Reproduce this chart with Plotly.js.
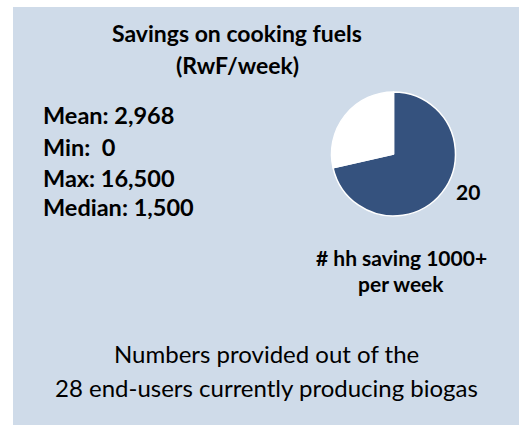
<!DOCTYPE html>
<html>
<head>
<meta charset="utf-8">
<script src="https://cdn.plot.ly/plotly-3.0.1.min.js"></script>
<style>html,body{margin:0;padding:0;background:#fff;}#chart{width:519px;height:425px;}</style>
</head>
<body>
<div id="chart"></div>
<script>
// Data
var sliceLabels = ["Saving 1000+ per week", "Saving less than 1000 per week"];
var sliceValues = [20, 8];
var sliceColors = ["#35527E", "#FFFFFF"];
var titleLines = ["Savings on cooking fuels", "(RwF/week)"];
var statLines = ["Mean: 2,968", "Min:  0", "Max: 16,500", "Median: 1,500"];
var pieCaption = ["# hh saving 1000+", "per week"];
var footLines = ["Numbers provided out of the", "28 end-users currently producing biogas"];

var W = 519, H = 425;
var FONT = "Lato, 'Open Sans', sans-serif";
function px(x){return x / W;}
function py(y){return 1 - y / H;}

var annotations = [];
function addText(t, x, y, size, bold, xanchor){
  annotations.push({
    text: bold ? "<b>" + t + "</b>" : t,
    x: px(x), y: py(y), xref: "paper", yref: "paper",
    xanchor: xanchor || "center", yanchor: "middle",
    showarrow: false,
    font: {family: FONT, size: size, color: "#000"}
  });
}
addText(titleLines[0], 237, 33, 23, true);
addText(titleLines[1], 237, 65, 23, true);
var statY = [115, 147, 178, 207];
statLines.forEach(function(s, i){ addText(s, 41, statY[i], 23.5, true, "left"); });
addText(pieCaption[0], 401, 257, 21, true);
addText(pieCaption[1], 401, 283, 21, true);
addText(footLines[0], 266, 353, 24, false);
addText(footLines[1], 266, 387, 24, false);
// value label of the dark slice
addText(String(sliceValues[0]), 468, 191, 21, true);

var trace = {
  type: "pie",
  labels: sliceLabels,
  values: sliceValues,
  sort: false,
  direction: "clockwise",
  rotation: 0,
  marker: {colors: sliceColors, line: {color: "#FFFFFF", width: 1.5}},
  textinfo: "none",
  hoverinfo: "label+value",
  showlegend: false,
  domain: {x: [px(331), px(456)], y: [py(216), py(92)]}
};

var layout = {
  width: W, height: H,
  margin: {l: 0, r: 0, t: 0, b: 0},
  paper_bgcolor: "#FFFFFF",
  plot_bgcolor: "rgba(0,0,0,0)",
  showlegend: false,
  shapes: [{
    type: "rect", xref: "paper", yref: "paper", layer: "below",
    x0: px(13), x1: 1, y0: 0, y1: py(7),
    fillcolor: "#CFDBE9", line: {width: 0}
  }],
  annotations: annotations
};

Plotly.newPlot("chart", [trace], layout, {displayModeBar: false, staticPlot: true});
</script>
</body>
</html>
